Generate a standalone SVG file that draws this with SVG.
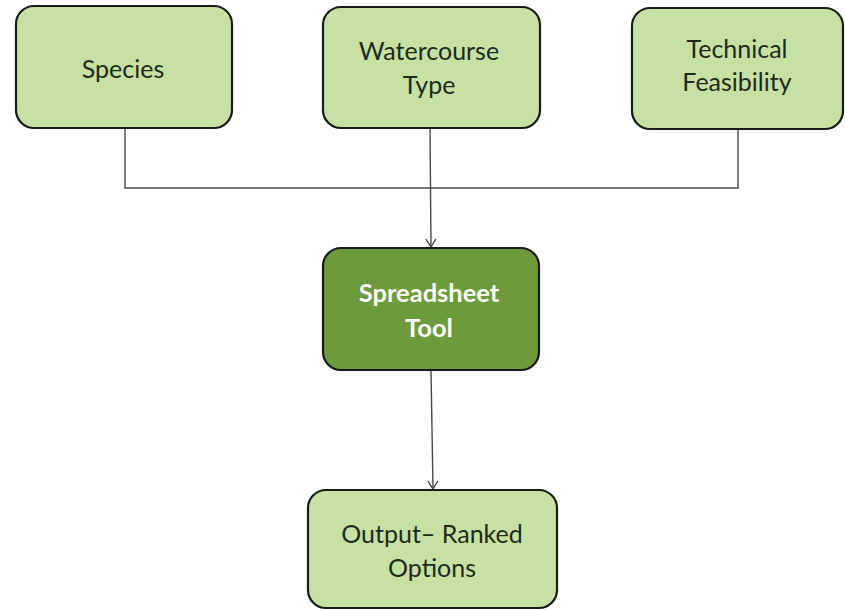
<svg xmlns="http://www.w3.org/2000/svg" width="845" height="610" viewBox="0 0 845 610">
<style>
.box{fill:#c7e1a5;stroke:#1a1a1a;stroke-width:2.2}
.dark{fill:#6c9b3c;stroke:#1a1a1a;stroke-width:2.2}
.t{font-family:Lato,"Liberation Sans",sans-serif;font-size:25px;fill:#1e2a1a;text-anchor:middle}
.tb{font-family:Lato,"Liberation Sans",sans-serif;font-size:25.5px;font-weight:bold;fill:#ffffff;text-anchor:middle}
.c{fill:none;stroke:#4a4a4a;stroke-width:1.4}
</style>
<defs>
<marker id="arr" markerWidth="12" markerHeight="12" refX="10" refY="6" orient="auto" markerUnits="userSpaceOnUse">
<path d="M2,1 L10,6 L2,11" fill="none" stroke="#4a4a4a" stroke-width="1.4"/>
</marker>
</defs>
<rect width="845" height="610" fill="#ffffff"/>
<g id="connectors">
<polyline class="c" points="125,129 125,188 738,188 738,129"/>
<line class="c" x1="430" y1="128" x2="431" y2="247" marker-end="url(#arr)"/>
<line class="c" x1="431" y1="370" x2="433" y2="489" marker-end="url(#arr)"/>
</g>
<g id="species">
<rect class="box" x="16" y="6" width="216" height="122" rx="18"/>
<text class="t" x="123" y="78">Species</text>
</g>
<g id="watercourse">
<rect class="box" x="323" y="7" width="217" height="121" rx="18"/>
<text class="t" x="429" y="60">Watercourse</text>
<text class="t" x="429" y="94">Type</text>
</g>
<g id="technical">
<rect class="box" x="632" y="8" width="211" height="121" rx="18"/>
<text class="t" x="737" y="58">Technical</text>
<text class="t" x="737" y="91">Feasibility</text>
</g>
<g id="spreadsheet">
<rect class="dark" x="323" y="248" width="216" height="122" rx="18"/>
<text class="tb" x="429" y="302">Spreadsheet</text>
<text class="tb" x="429" y="337">Tool</text>
</g>
<g id="output">
<rect class="box" x="308" y="490" width="249" height="118" rx="18"/>
<text class="t" x="432" y="543">Output– Ranked</text>
<text class="t" x="432" y="577">Options</text>
</g>
</svg>
